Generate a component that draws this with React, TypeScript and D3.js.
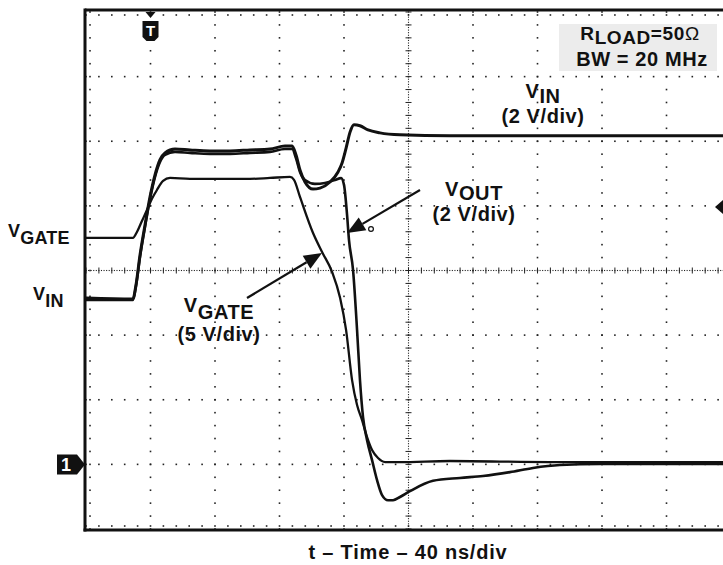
import React from 'react';
import * as d3 from 'd3';

// ---------- data (read from the scope capture) ----------
// time in ns (trigger at 0), 40 ns/div; voltages in volts
const TIME_DOMAIN = [-40, 360];
const DIV_DOMAIN = [-4, 4];
const GROUND_DIV = -3; // channel ground reference (marker "1")

const VIN_VDIV = 2;
const VIN_T = [-40, -10.9, -9.0, -6.5, -3.4, -0.3, 2.8, 5.9, 9.0, 15.2, 24.5, 36.9, 49.3, 61.7, 74.1, 83.4, 87.8, 90.2, 92.7, 95.8, 100.8, 105.1, 111.3, 116.3, 118.8, 121.3, 123.8, 126.2, 129.9, 134.9, 142.3, 154.7, 185.7, 216.7, 278.8, 360];
const VIN_V = [5.15, 5.12, 5.55, 6.48, 7.41, 8.28, 8.96, 9.43, 9.64, 9.76, 9.73, 9.70, 9.70, 9.73, 9.76, 9.85, 9.85, 9.58, 9.11, 8.74, 8.52, 8.55, 8.74, 9.05, 9.33, 9.79, 10.29, 10.51, 10.48, 10.35, 10.26, 10.20, 10.17, 10.17, 10.17, 10.17];

const VOUT_VDIV = 2;
const VOUT_T = [-40, -10.9, -9.0, -6.5, -3.4, -0.3, 2.8, 5.9, 9.0, 15.2, 24.5, 36.9, 49.3, 61.7, 74.1, 83.4, 87.8, 90.2, 92.7, 95.8, 102.0, 108.2, 114.4, 118.2, 120.0, 121.9, 123.1, 125.6, 128.1, 129.9, 131.8, 134.3, 137.4, 140.5, 143.6, 147.3, 150.4, 154.7, 160.9, 175.2, 191.9, 206.2, 222.9, 237.2, 253.9, 278.8, 360];
const VOUT_V = [5.09, 5.09, 5.52, 6.42, 7.35, 8.21, 8.90, 9.36, 9.58, 9.67, 9.64, 9.61, 9.61, 9.64, 9.67, 9.76, 9.76, 9.48, 9.05, 8.80, 8.68, 8.71, 8.80, 8.86, 8.65, 7.72, 6.94, 6.02, 4.16, 2.61, 1.46, 0.75, 0.13, -0.49, -0.95, -1.11, -1.11, -1.01, -0.83, -0.51, -0.42, -0.36, -0.24, -0.11, -0.02, 0.01, 0.01];

const VGATE_VDIV = 5;
const VGATE_T = [-40, -10.9, -8.4, -5.3, -2.2, 0.9, 4.0, 7.8, 12.1, 24.5, 43.1, 61.7, 74.1, 86.5, 89.0, 92.7, 100.8, 106.4, 112.6, 117.6, 121.3, 125.0, 128.1, 131.2, 134.3, 137.4, 141.1, 145.5, 154.7, 185.7, 247.7, 360];
const VGATE_V = [17.52, 17.52, 17.98, 18.83, 19.68, 20.55, 21.23, 21.93, 22.16, 22.09, 22.09, 22.09, 22.16, 22.24, 22.01, 20.69, 17.90, 16.43, 14.89, 12.87, 10.39, 6.52, 4.59, 3.42, 2.11, 1.11, 0.49, 0.18, 0.18, 0.26, 0.18, 0.18];

const X_LABEL = 't – Time – 40 ns/div';

// ---------- layout ----------
const W = 723;
const H = 565;
const PL = 86, PR = 731, PT = 12, PB = 529;
const FONT = '"Liberation Sans", Arial, Helvetica, sans-serif';
const INK = '#111';

export default function App() {
  const x = d3.scaleLinear().domain(TIME_DOMAIN).range([PL, PR]);
  const yDiv = d3.scaleLinear().domain(DIV_DOMAIN).range([PB, PT]);
  const yCh = (vdiv: number) => (v: number) => yDiv(GROUND_DIV + v / vdiv);

  const mk = (ts: number[], vs: number[], vdiv: number) => {
    const y = yCh(vdiv);
    const line = d3
      .line<number>()
      .x((_, i) => x(ts[i]))
      .y((d) => y(d))
      .curve(d3.curveMonotoneX);
    return line(vs) || '';
  };

  const dots: JSX.Element[] = [];
  const dot = (cx: number, cy: number, k: string, s = 1.6) => {
    dots.push(<rect key={k} x={cx - s / 2} y={cy - s / 2} width={s} height={s} fill="#222" />);
  };

  const minorDivs = d3.range(-4, 4.0001, 0.2);
  const minorTimes = d3.range(-40, 360.0001, 8);
  for (let k = 1; k <= 9; k++) {
    const t = -40 + 40 * k;
    if (k === 5) continue;
    minorDivs.forEach((dv, i) => dot(x(t), yDiv(dv), `v${k}-${i}`));
  }
  for (let d = -3; d <= 3; d++) {
    if (d === 0) continue;
    minorTimes.forEach((t, i) => dot(x(t), yDiv(d), `h${d}-${i}`));
  }
  d3.range(-4, 4.0001, 0.04).forEach((dv, i) => dot(x(160), yDiv(dv), `cv${i}`, 1.1));
  d3.range(-40, 360.0001, 1.6).forEach((t, i) => dot(x(t), yDiv(0), `ch${i}`, 1.1));
  const ticks: JSX.Element[] = [];
  minorDivs.forEach((dv, i) =>
    ticks.push(<line key={`cvt${i}`} x1={x(160) - 3} x2={x(160) + 3} y1={yDiv(dv)} y2={yDiv(dv)} stroke="#222" strokeWidth={1} />)
  );
  minorTimes.forEach((t, i) =>
    ticks.push(<line key={`cht${i}`} x1={x(t)} x2={x(t)} y1={yDiv(0) - 3} y2={yDiv(0) + 3} stroke="#222" strokeWidth={1} />)
  );
  minorDivs.forEach((dv, i) => dot(PL + 4, yDiv(dv), `le${i}`));
  minorTimes.forEach((t, i) => {
    dot(x(t), PT + 3, `te${i}`);
    dot(x(t), PB - 3, `be${i}`);
  });

  const arrow = (x1: number, y1: number, x2: number, y2: number, key: string) => {
    const ang = Math.atan2(y2 - y1, x2 - x1);
    const L = 18, Wd = 7.5;
    const bx = x2 - L * Math.cos(ang), by = y2 - L * Math.sin(ang);
    const px = -Math.sin(ang) * Wd, py = Math.cos(ang) * Wd;
    return (
      <g key={key}>
        <line x1={x1} y1={y1} x2={bx} y2={by} stroke={INK} strokeWidth={2.2} />
        <path d={`M${x2},${y2} L${bx + px},${by + py} L${bx - px},${by - py} Z`} fill={INK} />
      </g>
    );
  };

  const trace = { fill: 'none', stroke: INK, strokeLinejoin: 'round' as const, strokeLinecap: 'round' as const };
  const lbl = { fontWeight: 'bold' as const, fill: INK, fontSize: 20, letterSpacing: 0.6 };

  return (
    <svg width={W} height={H} style={{ position: 'absolute', left: 0, top: 0, background: '#fff' }} fontFamily={FONT}>
      <rect x={0} y={0} width={W} height={H} fill="#fff" />
      <g>{dots}</g>
      <g>{ticks}</g>
      {/* frame */}
      <line x1={PL - 1} x2={W} y1={PT - 2} y2={PT - 2} stroke={INK} strokeWidth={3} />
      <line x1={PL - 1} x2={PL - 1} y1={PT - 3.5} y2={PB + 2.5} stroke={INK} strokeWidth={3} />
      <line x1={PL - 2.5} x2={W} y1={PB + 1} y2={PB + 1} stroke={INK} strokeWidth={3} />

      {/* annotation box */}
      <rect x={559} y={24} width={158} height={47} fill="#ececec" />
      <text x={640} y={40} textAnchor="middle" {...lbl} fontSize={19}>
        R<tspan dy={4}>LOAD</tspan>
        <tspan dy={-4}>=50</tspan>
        <tspan fontWeight="normal">Ω</tspan>
      </text>
      <text x={642} y={66} textAnchor="middle" {...lbl}>BW = 20 MHz</text>

      {/* traces */}
      <path d={mk(VGATE_T, VGATE_V, VGATE_VDIV)} {...trace} strokeWidth={2.3} />
      <path d={mk(VOUT_T, VOUT_V, VOUT_VDIV)} {...trace} strokeWidth={2.6} />
      <path d={mk(VIN_T, VIN_V, VIN_VDIV)} {...trace} strokeWidth={3} />

      {/* arrows */}
      {arrow(247, 298, 322, 253, 'a1')}
      {arrow(420, 190, 347, 233, 'a2')}
      <circle cx={371} cy={229} r={2.4} fill="none" stroke={INK} strokeWidth={1.2} />

      {/* labels */}
      <text x={8} y={237} {...lbl} fontSize={18} letterSpacing={0.2}>
        V<tspan dy={7}>GATE</tspan>
      </text>
      <text x={33} y={300} {...lbl} fontSize={18} letterSpacing={0.2}>
        V<tspan dy={7}>IN</tspan>
      </text>
      <text x={219} y={312} textAnchor="middle" {...lbl}>
        V<tspan dy={7}>GATE</tspan>
      </text>
      <text x={219} y={341} textAnchor="middle" {...lbl}>(5 V/div)</text>
      <text x={474} y={196} textAnchor="middle" {...lbl}>
        V<tspan dy={4}>OUT</tspan>
      </text>
      <text x={474} y={221} textAnchor="middle" {...lbl}>(2 V/div)</text>
      <text x={543} y={98} textAnchor="middle" {...lbl}>
        V<tspan dy={5}>IN</tspan>
      </text>
      <text x={543} y={123} textAnchor="middle" {...lbl}>(2 V/div)</text>

      {/* trigger position marker */}
      <path d={`M${x(0) - 5},${PT} L${x(0) + 5},${PT} L${x(0)},${PT + 6} Z`} fill={INK} />
      <path d={`M${x(0) - 8},${PT + 9} H${x(0) + 8} V${PT + 25} L${x(0) + 4},${PT + 29} H${x(0) - 4} L${x(0) - 8},${PT + 25} Z`} fill={INK} />
      <text x={x(0)} y={PT + 24} textAnchor="middle" fontSize={15} fontWeight="bold" fill="#fff">T</text>

      {/* channel ground marker */}
      <path d={`M57,${yDiv(GROUND_DIV) - 10} H77 L85,${yDiv(GROUND_DIV)} L77,${yDiv(GROUND_DIV) + 10} H57 Z`} fill={INK} />
      <text x={66} y={yDiv(GROUND_DIV) + 7} textAnchor="middle" fontSize={18} fontWeight="bold" fill="#fff">1</text>

      {/* trigger level marker */}
      <path d={`M715,207 L723,200 L723,214 Z`} fill={INK} />

      {/* x-axis label */}
      <text x={408} y={559} textAnchor="middle" {...lbl} letterSpacing={0.8}>{X_LABEL}</text>
    </svg>
  );
}
